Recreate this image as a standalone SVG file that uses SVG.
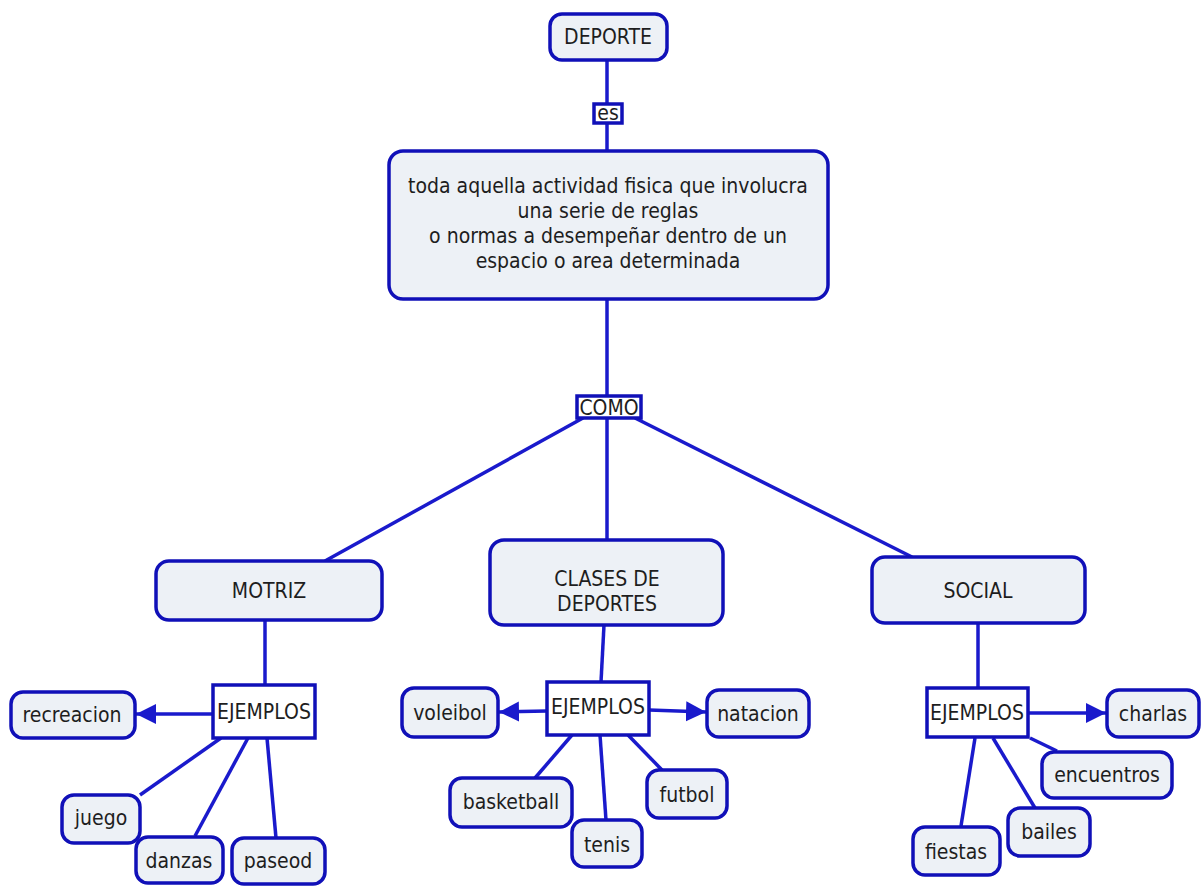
<svg xmlns="http://www.w3.org/2000/svg" width="1201" height="888" viewBox="0 0 1201 888">
<style>
.c{fill:#edf1f6;stroke:#1010b8;stroke-width:3.5}
.l{fill:#ffffff;stroke:#1010b8;stroke-width:3.5}
.e{fill:none;stroke:#1a1acc;stroke-width:3.5}
text{font-family:"DejaVu Sans","Liberation Sans",sans-serif;font-stretch:condensed;font-size:21px;fill:#1e1e1e;text-anchor:middle}
</style>
<defs>
<marker id="ah" markerUnits="userSpaceOnUse" markerWidth="22" markerHeight="22" refX="20" refY="10" orient="auto">
<path d="M0,0 L20,10 L0,20 Z" fill="#1a1acc"/>
</marker>
</defs>
<rect width="1201" height="888" fill="#ffffff"/>
<g id="connectors">
<line class="e" x1="607" y1="60" x2="607" y2="104"/>
<line class="e" x1="607" y1="123" x2="607" y2="151"/>
<line class="e" x1="607" y1="299" x2="607" y2="396"/>
<line class="e" x1="583" y1="418" x2="325" y2="561"/>
<line class="e" x1="607" y1="418" x2="607" y2="540"/>
<line class="e" x1="635" y1="418" x2="912" y2="557"/>
<line class="e" x1="265" y1="620" x2="265" y2="685"/>
<line class="e" x1="604" y1="625" x2="601" y2="682"/>
<line class="e" x1="978" y1="623" x2="978" y2="688"/>
<line class="e" x1="213" y1="714" x2="136" y2="714" marker-end="url(#ah)"/>
<line class="e" x1="221" y1="738" x2="140" y2="795"/>
<line class="e" x1="248" y1="738" x2="195" y2="836"/>
<line class="e" x1="267" y1="738" x2="276" y2="838"/>
<line class="e" x1="547" y1="711" x2="499" y2="712" marker-end="url(#ah)"/>
<line class="e" x1="649" y1="710" x2="706" y2="712" marker-end="url(#ah)"/>
<line class="e" x1="572" y1="735" x2="535" y2="778"/>
<line class="e" x1="600" y1="735" x2="606" y2="820"/>
<line class="e" x1="628" y1="735" x2="662" y2="770"/>
<line class="e" x1="1028" y1="713" x2="1106" y2="713" marker-end="url(#ah)"/>
<line class="e" x1="1030" y1="738" x2="1057" y2="751"/>
<line class="e" x1="993" y1="738" x2="1035" y2="808"/>
<line class="e" x1="975" y1="738" x2="961" y2="826"/>
</g>
<g id="deporte"><rect class="c" x="550" y="14" width="117" height="46" rx="12"/><text x="608" y="44">DEPORTE</text></g>
<g id="es"><rect class="l" x="594" y="104" width="28" height="19"/><text x="608" y="120">es</text></g>
<g id="definicion"><rect class="c" x="389" y="151" width="439" height="148" rx="14"/>
<text x="608" y="193">toda aquella actividad fisica que involucra</text>
<text x="608" y="218">una serie de reglas</text>
<text x="608" y="243"> o normas a desempeñar dentro de un</text>
<text x="608" y="268">espacio o area determinada</text></g>
<g id="como"><rect class="l" x="577" y="396" width="64" height="22"/><text x="609" y="415">COMO</text></g>
<g id="motriz"><rect class="c" x="156" y="561" width="226" height="59" rx="13"/><text x="269" y="598">MOTRIZ</text></g>
<g id="clases"><rect class="c" x="490" y="540" width="233" height="85" rx="14"/><text x="607" y="586">CLASES DE</text><text x="607" y="611">DEPORTES</text></g>
<g id="social"><rect class="c" x="872" y="557" width="213" height="66" rx="13"/><text x="978" y="598">SOCIAL</text></g>
<g id="ejemplos1"><rect class="l" x="213" y="685" width="102" height="53"/><text x="264" y="719">EJEMPLOS</text></g>
<g id="recreacion"><rect class="c" x="11" y="692" width="124" height="46" rx="12"/><text x="72" y="722">recreacion</text></g>
<g id="juego"><rect class="c" x="62" y="795" width="78" height="48" rx="12"/><text x="101" y="825">juego</text></g>
<g id="danzas"><rect class="c" x="136" y="837" width="87" height="46" rx="12"/><text x="179" y="868">danzas</text></g>
<g id="paseod"><rect class="c" x="232" y="838" width="93" height="46" rx="12"/><text x="278" y="868">paseod</text></g>
<g id="ejemplos2"><rect class="l" x="547" y="682" width="102" height="53"/><text x="598" y="714">EJEMPLOS</text></g>
<g id="voleibol"><rect class="c" x="402" y="688" width="96" height="49" rx="12"/><text x="450" y="720">voleibol</text></g>
<g id="natacion"><rect class="c" x="707" y="690" width="102" height="47" rx="12"/><text x="758" y="721">natacion</text></g>
<g id="basketball"><rect class="c" x="450" y="778" width="122" height="49" rx="12"/><text x="511" y="809">basketball</text></g>
<g id="tenis"><rect class="c" x="572" y="820" width="70" height="47" rx="12"/><text x="607" y="852">tenis</text></g>
<g id="futbol"><rect class="c" x="647" y="770" width="80" height="48" rx="12"/><text x="687" y="802">futbol</text></g>
<g id="ejemplos3"><rect class="l" x="927" y="688" width="101" height="49"/><text x="977" y="720">EJEMPLOS</text></g>
<g id="charlas"><rect class="c" x="1107" y="690" width="92" height="47" rx="12"/><text x="1153" y="721">charlas</text></g>
<g id="encuentros"><rect class="c" x="1042" y="752" width="130" height="46" rx="12"/><text x="1107" y="782">encuentros</text></g>
<g id="bailes"><rect class="c" x="1008" y="808" width="82" height="48" rx="12"/><text x="1049" y="839">bailes</text></g>
<g id="fiestas"><rect class="c" x="913" y="827" width="87" height="48" rx="12"/><text x="956" y="859">fiestas</text></g>
</svg>
